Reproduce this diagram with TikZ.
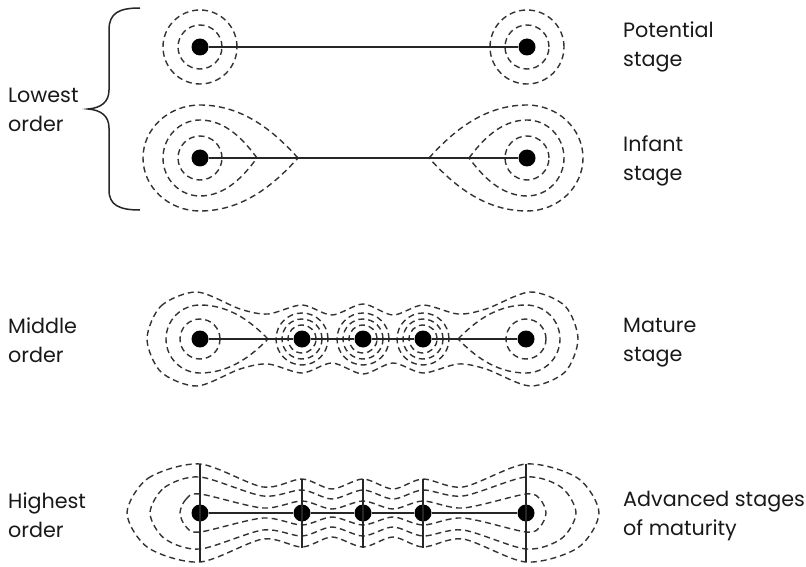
\documentclass[tikz,border=0pt]{standalone}
\usepackage{fontspec}
\setmainfont{Poppins}
\newcommand{\tdrop}[6]{% cx cy a b L s
 \draw[contour] ({#1+#6*#5},#2) .. controls ({#1+#6*0.77*#5},{#2-0.47*#4}) and ({#1+#6*0.45*#5},{#2-#4}) .. (#1,{#2-#4})
 .. controls ({#1-#6*0.552*#3},{#2-#4}) and ({#1-#6*#3},{#2-0.552*#4}) .. ({#1-#6*#3},#2)
 .. controls ({#1-#6*#3},{#2+0.552*#4}) and ({#1-#6*0.552*#3},{#2+#4}) .. (#1,{#2+#4})
 .. controls ({#1+#6*0.45*#5},{#2+#4}) and ({#1+#6*0.77*#5},{#2+0.47*#4}) .. ({#1+#6*#5},#2);}
\begin{document}
\begin{tikzpicture}[x=1pt,y=-1pt,
  dot/.style={circle,fill=black,draw=none,minimum size=17pt,inner sep=0pt},
  axis/.style={line width=1.3pt, draw=black!85},
  contour/.style={line width=1.4pt, draw=black!80, dash pattern=on 6pt off 4pt},
  lbl/.style={anchor=base west, inner sep=0pt, align=left, font=\fontsize{20.7}{29}\selectfont, text=black!90},
  bracestyle/.style={line width=1.5pt, draw=black!85}]
\useasboundingbox (0,0) rectangle (806,567);

% ---------- Row 1: potential stage ----------
\foreach \cx in {200,527}{
  \draw[contour] (\cx,47) circle[radius=22pt];
  \draw[contour] (\cx,47) circle[radius=37pt];
}
\node[dot] (a1) at (200,47) {};
\node[dot] (a2) at (527,47) {};
\draw[axis] (a1) -- (a2);

% ---------- Row 2: infant stage ----------
\draw[contour] (200,158) circle[radius=22pt];
\draw[contour] (527,158) circle[radius=22pt];
\tdrop{200}{158}{37}{38}{57}{1}
\tdrop{200}{158}{57}{53}{98}{1}
\tdrop{527}{158}{37}{38}{58}{-1}
\tdrop{527}{158}{56}{53}{98}{-1}
\node[dot] (b1) at (200,158) {};
\node[dot] (b2) at (527,158) {};
\draw[axis] (b1) -- (b2);

% ---------- Row 3: mature stage ----------
\draw[contour] (200,339) circle[radius=20pt];
\draw[contour] (526,339) circle[radius=20pt];
\tdrop{200}{339}{34}{34}{68}{1}
\tdrop{526}{339}{34}{34}{68}{-1}
\foreach \cx in {302,363,423}{
  \foreach \r in {14,20,26}{
    \draw[contour] (\cx,339) circle[radius=\r pt];
  }
}
\draw[contour] plot[smooth cycle] coordinates {
  (147,339) (161,306) (197,292) (240,309) (268,314) (302,305) (332,315) (363,304)
  (393,315) (423,305) (458,314) (486,309) (530,292) (565,306) (578,339)
  (565,372) (530,386) (486,369) (458,364) (423,373) (393,363) (363,374)
  (332,363) (302,373) (268,364) (240,369) (197,386) (161,372)};
\node[dot] (c1) at (200,339) {};
\node[dot] (c2) at (302,339) {};
\node[dot] (c3) at (363,339) {};
\node[dot] (c4) at (423,339) {};
\node[dot] (c5) at (526,339) {};
\draw[axis] (c1) -- (c2) -- (c3) -- (c4) -- (c5);

% ---------- Row 4: advanced stages ----------
\foreach \h/\e/\da/\m/\db in {73/49/26/34/24, 50/36/17/23/14, 20/19/5/12/4}{
  \draw[contour] plot[smooth cycle] coordinates {
    ({200-\h},513) ({200-0.71*\h},{513-0.71*\e}) (200,{513-\e}) (263,{513-\da})
    (302,{513-\m}) (332,{513-\db}) (363,{513-\m}) (393,{513-\db}) (423,{513-\m})
    (463,{513-\da}) (526,{513-\e}) ({526+0.71*\h},{513-0.71*\e}) ({526+\h},513)
    ({526+0.71*\h},{513+0.71*\e}) (526,{513+\e}) (463,{513+\da}) (423,{513+\m})
    (393,{513+\db}) (363,{513+\m}) (332,{513+\db}) (302,{513+\m}) (263,{513+\da})
    (200,{513+\e}) ({200-0.71*\h},{513+0.71*\e})};
}
\node[dot] (d1) at (200,513) {};
\node[dot] (d2) at (302,513) {};
\node[dot] (d3) at (363,513) {};
\node[dot] (d4) at (423,513) {};
\node[dot] (d5) at (526,513) {};
\draw[axis] (d1) -- (d2) -- (d3) -- (d4) -- (d5);
\foreach \n in {d1,d5}{
  \draw[axis] ([yshift=49pt]\n.center) -- ([yshift=-49pt]\n.center);
}
\foreach \n in {d2,d3,d4}{
  \draw[axis] ([yshift=34pt]\n.center) -- ([yshift=-35pt]\n.center);
}

% ---------- Brace ----------
\coordinate (brtop) at (140,8);
\coordinate (brtip) at (88,109);
\coordinate (brbot) at (140,210);
\draw[bracestyle] (brtop) .. controls (119,8) and (109,13) .. (109,30) -- (109,90)
  .. controls (109,102) and (101,108) .. (brtip)
  .. controls (101,110) and (109,116) .. (109,128) -- (109,190)
  .. controls (109,205) and (119,210) .. (brbot);

% ---------- Labels (anchor = baseline of last line) ----------
\node[lbl] (l1) at (8,132) {Lowest\\order};
\node[lbl] (l2) at (8,362) {Middle\\order};
\node[lbl] (l3) at (8,537) {Highest\\order};
\node[lbl] (r1) at (623,67) {Potential\\stage};
\node[lbl] (r2) at (623,181) {Infant\\stage};
\node[lbl] (r3) at (623,361) {Mature\\stage};
\node[lbl] (r4) at (623,535) {Advanced stages\\of maturity};
\end{tikzpicture}
\end{document}
